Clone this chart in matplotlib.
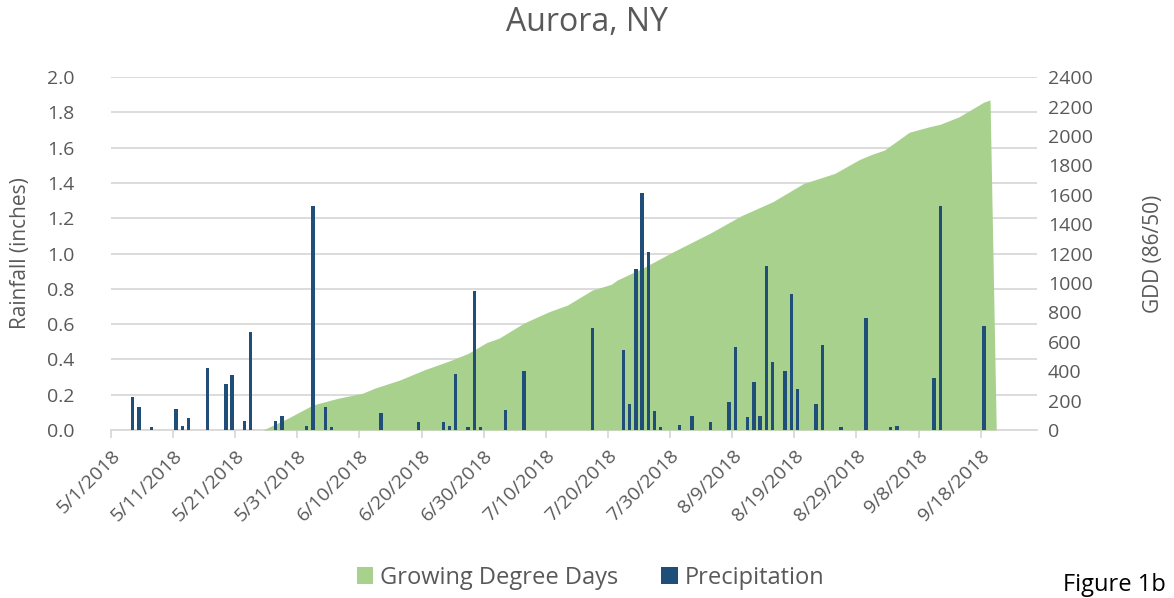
import matplotlib
matplotlib.use("Agg")
import matplotlib.pyplot as plt
import pandas as pd

# ---------------- data ----------------
title = "Aurora, NY"
rain_dates = ["2018-05-04", "2018-05-05", "2018-05-07", "2018-05-11", "2018-05-12", "2018-05-13",
              "2018-05-16", "2018-05-19", "2018-05-20", "2018-05-22", "2018-05-23", "2018-05-27",
              "2018-05-28", "2018-06-01", "2018-06-02", "2018-06-04", "2018-06-05", "2018-06-13",
              "2018-06-19", "2018-06-23", "2018-06-24", "2018-06-25", "2018-06-27", "2018-06-28",
              "2018-06-29", "2018-07-03", "2018-07-06", "2018-07-17", "2018-07-22", "2018-07-23",
              "2018-07-24", "2018-07-25", "2018-07-26", "2018-07-27", "2018-07-28", "2018-07-31",
              "2018-08-02", "2018-08-05", "2018-08-08", "2018-08-09", "2018-08-11", "2018-08-12",
              "2018-08-13", "2018-08-14", "2018-08-15", "2018-08-17", "2018-08-18", "2018-08-19",
              "2018-08-22", "2018-08-23", "2018-08-26", "2018-08-30", "2018-09-03", "2018-09-04",
              "2018-09-10", "2018-09-11", "2018-09-18"]
rain_inches = [0.185, 0.132, 0.015, 0.12, 0.023, 0.066,
               0.35, 0.26, 0.31, 0.053, 0.554, 0.053,
               0.081, 0.023, 1.272, 0.132, 0.015, 0.098,
               0.047, 0.047, 0.023, 0.32, 0.019, 0.788,
               0.019, 0.113, 0.336, 0.577, 0.454, 0.147,
               0.911, 1.346, 1.011, 0.11, 0.015, 0.03,
               0.08, 0.045, 0.16, 0.473, 0.076, 0.27,
               0.08, 0.93, 0.387, 0.336, 0.771, 0.234,
               0.147, 0.482, 0.019, 0.633, 0.015, 0.025,
               0.293, 1.267, 0.59]

gdd_dates = ["2018-05-25", "2018-05-29", "2018-06-02", "2018-06-06", "2018-06-10", "2018-06-12",
             "2018-06-16", "2018-06-20", "2018-06-24", "2018-06-27", "2018-06-30", "2018-07-02",
             "2018-07-06", "2018-07-10", "2018-07-13", "2018-07-17", "2018-07-20", "2018-07-21",
             "2018-07-25", "2018-07-30", "2018-08-05", "2018-08-10", "2018-08-15", "2018-08-20",
             "2018-08-25", "2018-08-29", "2018-08-31", "2018-09-02", "2018-09-06", "2018-09-09",
             "2018-09-11", "2018-09-14", "2018-09-18", "2018-09-19", "2018-09-20"]
gdd_values = [0, 80, 170, 215, 250, 285,
              340, 410, 470, 521, 595, 625,
              728, 804, 850, 952, 990, 1020,
              1099, 1212, 1340, 1458, 1552, 1677,
              1745, 1840, 1875, 1904, 2025, 2060,
              2080, 2130, 2230, 2245, 0]

tick_dates = ["2018-05-01", "2018-05-11", "2018-05-21", "2018-05-31", "2018-06-10", "2018-06-20",
              "2018-06-30", "2018-07-10", "2018-07-20", "2018-07-30", "2018-08-09", "2018-08-19",
              "2018-08-29", "2018-09-08", "2018-09-18"]
tick_labels = ["5/1/2018", "5/11/2018", "5/21/2018", "5/31/2018", "6/10/2018", "6/20/2018",
               "6/30/2018", "7/10/2018", "7/20/2018", "7/30/2018", "8/9/2018", "8/19/2018",
               "8/29/2018", "9/8/2018", "9/18/2018"]
rain_ticks = [0.0, 0.2, 0.4, 0.6, 0.8, 1.0, 1.2, 1.4, 1.6, 1.8, 2.0]
gdd_ticks = [0, 200, 400, 600, 800, 1000, 1200, 1400, 1600, 1800, 2000, 2200, 2400]

# ---------------- style ----------------
plt.rcParams['font.family'] = ['Open Sans', 'DejaVu Sans']
TXT = "#595959"
GRID = "#D9D9D9"
GREEN = "#A9D18E"
BLUE = "#1F4E79"

fig = plt.figure(figsize=(11.74, 5.98), dpi=100)
ax = fig.add_axes([0.0945, 0.281, 0.7885, 0.590])
ax2 = ax.twinx()
ax3 = ax.twinx()
ax.set_zorder(1)
ax2.set_zorder(2)
ax3.set_zorder(3)
for a in (ax2, ax3):
    a.patch.set_visible(False)

half_day = pd.Timedelta(hours=12)
rd = pd.to_datetime(rain_dates) + half_day
gd = pd.to_datetime(gdd_dates) + half_day

# area (GDD)
ax2.fill_between(gd, gdd_values, 0, color=GREEN, linewidth=0, label="Growing Degree Days")
# bars (precip)
ax3.bar(rd, rain_inches, width=0.55, color=BLUE, linewidth=0, label="Precipitation")

xmin = pd.Timestamp("2018-05-01")
xmax = pd.Timestamp("2018-09-27")
for a in (ax, ax2, ax3):
    a.set_xlim(xmin, xmax)
    for s in a.spines.values():
        s.set_visible(False)

ax.set_ylim(0, 2.0)
ax3.set_ylim(0, 2.0)
ax2.set_ylim(0, 2400)

ax.set_yticks(rain_ticks)
ax.set_yticklabels([f"{v:.1f}" for v in rain_ticks])
ax.yaxis.grid(True, color=GRID, linewidth=1.3)
ax.set_axisbelow(True)
ax.tick_params(axis='y', length=0, pad=26, labelsize=14, labelcolor=TXT)

ax2.set_yticks(gdd_ticks)
ax2.set_yticklabels([str(v) for v in gdd_ticks])
ax2.tick_params(axis='y', length=0, pad=8, labelsize=14, labelcolor=TXT)
ax3.set_yticks([])
ax3.tick_params(axis='both', length=0, labelbottom=False, labelleft=False, labelright=False)
ax2.tick_params(axis='x', length=0, labelbottom=False)

ax.spines['bottom'].set_visible(True)
ax.spines['bottom'].set_color(GRID)
ax.spines['bottom'].set_linewidth(1.3)
ax.set_xticks(pd.to_datetime(tick_dates))
ax.set_xticklabels(tick_labels, rotation=45, ha='right', va='top', rotation_mode='anchor')
ax.tick_params(axis='x', length=6, width=1.3, color=GRID, labelsize=14, labelcolor=TXT, pad=6)

ax.set_ylabel("Rainfall (inches)", fontsize=15, color=TXT, labelpad=12)
ax2.set_ylabel("GDD (86/50)", fontsize=15, color=TXT, rotation=90, labelpad=36)

fig.text(0.5, 0.963, title, ha='center', va='center', fontsize=23, color=TXT)

h2, l2 = ax2.get_legend_handles_labels()
h3, l3 = ax3.get_legend_handles_labels()
fig.legend(h2 + h3, l2 + l3, loc='center', bbox_to_anchor=(0.503, 0.034), ncol=2, frameon=False,
           fontsize=17, labelcolor=TXT, handlelength=0.7, handleheight=0.7, handletextpad=0.3,
           columnspacing=1.8)

fig.text(0.993, 0.022, "Figure 1b", ha='right', va='center', fontsize=17, color='black')

fig.savefig("out.png", dpi=100)
